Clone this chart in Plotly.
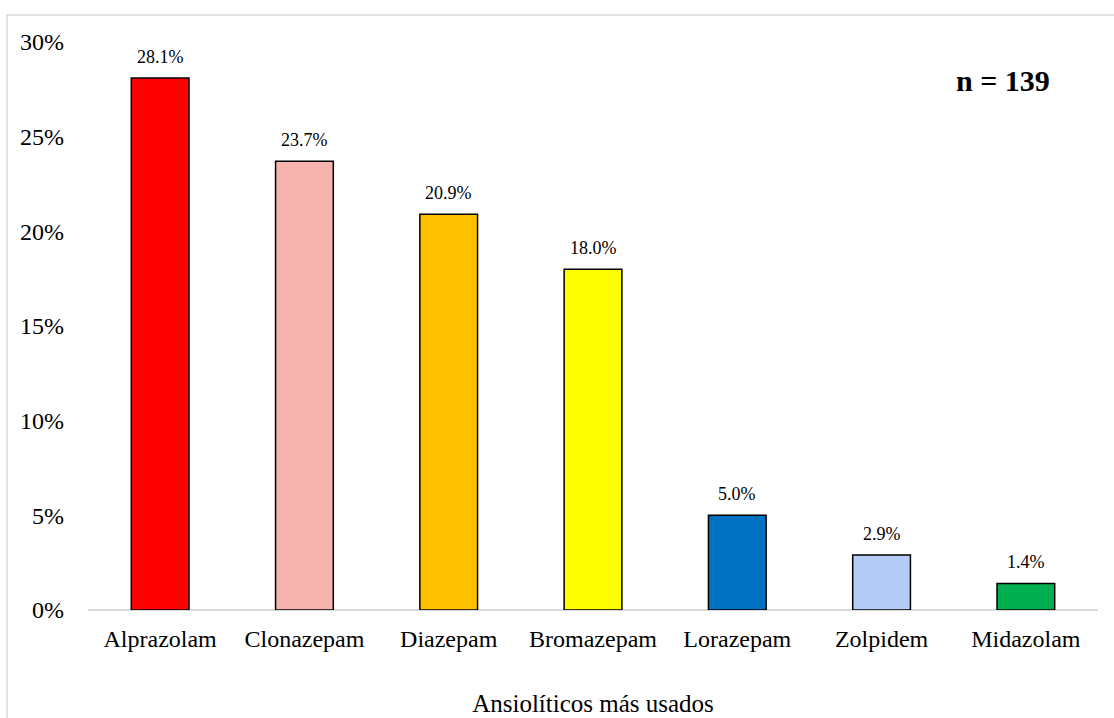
import plotly.graph_objects as go

categories = ["Alprazolam", "Clonazepam", "Diazepam", "Bromazepam", "Lorazepam", "Zolpidem", "Midazolam"]
values = [0.281, 0.237, 0.209, 0.180, 0.050, 0.029, 0.014]
labels = ["28.1%", "23.7%", "20.9%", "18.0%", "5.0%", "2.9%", "1.4%"]
colors = ["#FF0000", "#F7B4AF", "#FFC000", "#FFFF00", "#0070C0", "#B4CCF6", "#00B050"]
tick_vals = [0, 0.05, 0.10, 0.15, 0.20, 0.25, 0.30]
tick_text = ["0%", "5%", "10%", "15%", "20%", "25%", "30%"]

FONT = "Liberation Serif"

fig = go.Figure(go.Bar(
    x=categories, y=values,
    marker=dict(color=colors, line=dict(color="#000000", width=1.5)),
    hoverinfo="skip",
))

for c, v, t in zip(categories, values, labels):
    fig.add_annotation(x=c, y=v, text=t, showarrow=False, yanchor="bottom",
                       yshift=9, font=dict(family=FONT, size=18, color="#000000"))

fig.add_annotation(xref="paper", yref="paper", x=0.906, y=0.933, text="<b>n = 139</b>",
                   showarrow=False, xanchor="center", yanchor="middle",
                   font=dict(family=FONT, size=30, color="#000000"))

fig.add_shape(type="rect", xref="paper", yref="paper", x0=-0.0802, y0=-0.25, x1=1.05, y1=1.0475,
              line=dict(color="#D9D9D9", width=1.5), fillcolor="rgba(0,0,0,0)", layer="below")

fig.update_layout(
    width=1114, height=718,
    margin=dict(l=88, r=16, t=42, b=108, autoexpand=False),
    paper_bgcolor="#FFFFFF", plot_bgcolor="#FFFFFF",
    bargap=0.6,
    showlegend=False,
    font=dict(family=FONT, color="#000000"),
    xaxis=dict(
        showline=False, showgrid=False, zeroline=False, automargin=False,
        tickfont=dict(family=FONT, size=24, color="#000000"),
        ticks="", ticklabelstandoff=12,
        title=dict(text="Ansiolíticos más usados", font=dict(family=FONT, size=25, color="#000000"), standoff=43),
    ),
    yaxis=dict(
        range=[0, 0.30], tickvals=tick_vals, ticktext=tick_text,
        showgrid=False, showline=False, automargin=False,
        zeroline=True, zerolinecolor="#D9D9D9", zerolinewidth=1.5,
        tickfont=dict(family=FONT, size=24, color="#000000"),
        ticks="", ticklabelstandoff=23,
    ),
)

fig.write_html("out.html", config={"displayModeBar": False},
               post_script="document.body.style.margin='0';document.body.style.overflow='hidden';")
